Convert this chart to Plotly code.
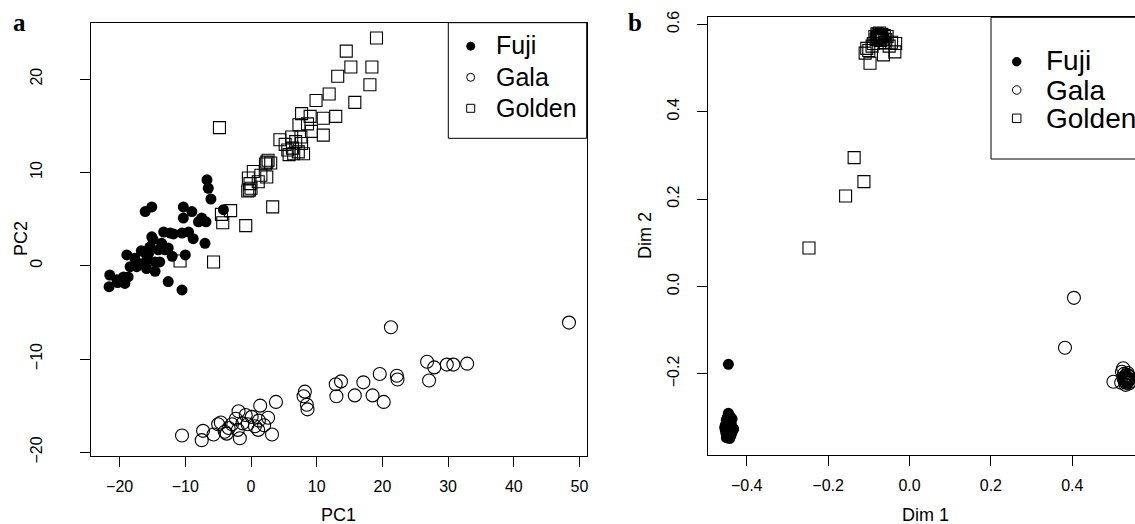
import plotly.graph_objects as go

W, H = 1135, 524

# ---------------- Panel a : PCA ----------------
fuji_pc1 = [-21.5, -21.6, -20.4, -19.4, -19.2, -18.7, -18.9, -18.4, -17.7, -17.4,
            -16.7, -16.4, -15.9, -15.9, -15.6, -15.4, -15.1, -14.6, -14.6, -14.1,
            -13.9, -13.1, -12.6, -16.1, -15.1, -13.3, -12.3, -12.6, -10.5, -10.0,
            -10.5, -9.5, -8.8, -7.0, -10.3, -10.3, -9.0, -8.0, -7.5, -6.85,
            -6.7, -6.5, -6.1, -4.2, -17.0, -13.6, -11.8, -20.3, -14.9, -12.0]
fuji_pc2 = [-1.0, -2.25, -1.5, -1.2, -1.9, -1.2, 1.15, -0.1, 0.8, -0.1,
            1.6, 1.5, -0.3, 0.6, 1.3, 2.0, 3.1, -0.6, 0.4, 1.7,
            0.4, 1.7, 1.9, 5.8, 6.3, 3.6, 3.5, -1.7, -2.6, 1.15,
            3.5, 3.6, 2.9, 2.4, 6.3, 5.1, 5.8, 4.7, 5.1, 4.7,
            9.2, 8.3, 7.15, 6.0, 0.2, 2.4, 3.4, -1.8, 2.8, 1.0]

gala_pc1 = [48.4, 21.3, 26.8, 27.9, 29.8, 30.8, 32.9, 27.1, 22.2, 22.3,
            19.6, 20.2, 18.5, 17.1, 15.8, 13.7, 12.9, 13.0, 8.2, 8.0,
            8.5, 8.6, 3.8, 1.4, -1.9, -0.8, -10.5, -7.5, -5.7, -3.7,
            -1.7, 3.2, 1.1, -7.3, -5.0, -4.6, -3.4, -2.9, -2.3, -1.3,
            0.1, 0.6, 1.2, 2.0, 2.6, -4.0, -2.0, -0.5]
gala_pc2 = [-6.1, -6.6, -10.3, -10.9, -10.6, -10.6, -10.5, -12.3, -11.8, -12.2,
            -11.6, -14.6, -13.9, -12.5, -13.9, -12.4, -12.7, -14.0, -13.5, -14.0,
            -14.9, -15.4, -14.6, -15.0, -15.6, -16.0, -18.2, -18.7, -18.1, -18.0,
            -18.5, -18.1, -17.6, -17.7, -17.0, -16.8, -17.4, -17.0, -16.4, -16.9,
            -16.2, -17.2, -16.6, -17.1, -16.3, -17.8, -17.6, -17.0]

golden_pc1 = [-4.8, -10.8, -5.7, -4.5, -3.1, -4.3, -0.8, 3.3, -0.25, -0.15,
              -0.4, 0.35, 1.1, 2.4, 2.4, 2.6, 2.2, 4.4, 5.2, 5.8,
              6.2, 6.3, 7.2, 7.7, 7.6, 8.0, 7.7, 7.3, 9.0, 9.2,
              11.0, 11.0, 9.9, 11.9, 12.9, 13.2, 14.5, 15.2, 15.8, 18.1,
              18.4, 19.1, 8.6, 6.8, 0.0, -0.5, 5.6, 6.5, 1.5, 3.0]
golden_pc2 = [14.8, 0.5, 0.4, 5.5, 5.9, 4.6, 4.3, 6.3, 8.1, 8.8,
              9.4, 10.1, 9.0, 9.5, 11.1, 11.3, 10.9, 13.5, 13.0, 11.9,
              13.8, 12.6, 12.2, 13.1, 13.8, 12.0, 16.3, 15.1, 16.0, 14.4,
              14.0, 15.8, 17.7, 18.4, 16.0, 20.3, 23.0, 21.3, 17.5, 19.4,
              21.3, 24.4, 15.2, 13.3, 8.3, 8.0, 12.4, 12.0, 9.7, 11.0]

# ---------------- Panel b : MDS ----------------
fuji_dim1 = [-0.445, -0.445, -0.440, -0.448, -0.436, -0.450, -0.443, -0.447, -0.438, -0.452,
             -0.444, -0.449, -0.441, -0.446, -0.432, -0.453, -0.440, -0.447, -0.436, -0.451,
             -0.443, -0.448, -0.439, -0.445, -0.450, -0.442, -0.446, -0.444, -0.441, -0.454,
             -0.437]
fuji_dim2 = [-0.178, -0.290, -0.298, -0.300, -0.303, -0.306, -0.308, -0.312, -0.314, -0.316,
             -0.318, -0.320, -0.322, -0.324, -0.326, -0.328, -0.330, -0.332, -0.334, -0.336,
             -0.338, -0.340, -0.342, -0.344, -0.346, -0.348, -0.335, -0.327, -0.310, -0.322,
             -0.320]

gala_dim1 = [0.404, 0.382, 0.501, 0.525, 0.530, 0.535, 0.528, 0.540, 0.533, 0.538,
             0.527, 0.542, 0.531, 0.536, 0.529, 0.534, 0.539, 0.532, 0.537, 0.526,
             0.541, 0.530, 0.535, 0.533, 0.522, 0.520]
gala_dim2 = [-0.026, -0.140, -0.218, -0.187, -0.205, -0.210, -0.215, -0.212, -0.220, -0.205,
             -0.200, -0.218, -0.225, -0.198, -0.212, -0.215, -0.222, -0.208, -0.216, -0.210,
             -0.207, -0.218, -0.202, -0.212, -0.195, -0.220]

golden_dim1 = [-0.097, -0.109, -0.105, -0.064, -0.036, -0.034, -0.044, -0.089, -0.072, -0.080,
               -0.055, -0.070, -0.075, -0.078, -0.068, -0.074, -0.082, -0.066, -0.085, -0.062,
               -0.071, -0.077, -0.069, -0.073, -0.080, -0.058, -0.092, -0.100, -0.050, -0.060,
               -0.247, -0.136, -0.112, -0.157]
golden_dim2 = [0.511, 0.534, 0.545, 0.530, 0.537, 0.556, 0.559, 0.556, 0.575, 0.578,
               0.572, 0.570, 0.568, 0.572, 0.577, 0.580, 0.565, 0.566, 0.572, 0.574,
               0.563, 0.576, 0.572, 0.574, 0.569, 0.565, 0.550, 0.540, 0.550, 0.558,
               0.088, 0.295, 0.240, 0.207]

cultivars = ["Fuji", "Gala", "Golden"]
tick_a_x = [-20, -10, 0, 10, 20, 30, 40, 50]
tick_a_y = [-20, -10, 0, 10, 20]
tick_b_x = [-0.4, -0.2, 0.0, 0.2, 0.4]
tick_b_y = [-0.2, 0.0, 0.2, 0.4, 0.6]

FONT = "Liberation Sans, Arial, Helvetica, sans-serif"
SERIF = "Liberation Serif, Times New Roman, serif"


def fx(p):
    return p / W


def fy(p):
    return 1 - p / H


fig = go.Figure()

styles = {
    "Fuji": dict(symbol="circle", size=11, color="black", line=dict(width=0)),
    "Gala": dict(symbol="circle-open", size=13, color="black", line=dict(width=1.1)),
    "Golden": dict(symbol="square-open", size=12, color="black", line=dict(width=1.1)),
}

panel_a = {"Fuji": (fuji_pc1, fuji_pc2), "Gala": (gala_pc1, gala_pc2),
           "Golden": (golden_pc1, golden_pc2)}
panel_b = {"Fuji": (fuji_dim1, fuji_dim2), "Gala": (gala_dim1, gala_dim2),
           "Golden": (golden_dim1, golden_dim2)}

for name in cultivars:
    x, y = panel_a[name]
    fig.add_trace(go.Scatter(x=x, y=y, mode="markers", name=name, marker=styles[name],
                             xaxis="x", yaxis="y", showlegend=False, cliponaxis=False))
for name in cultivars:
    x, y = panel_b[name]
    fig.add_trace(go.Scatter(x=x, y=y, mode="markers", name=name, marker=styles[name],
                             xaxis="x2", yaxis="y2", showlegend=False, cliponaxis=False))

axis_common = dict(showgrid=False, zeroline=False, showline=True, linecolor="black",
                   linewidth=1, ticks="outside", ticklen=10, tickwidth=1, tickcolor="black",
                   tickfont=dict(family=FONT, size=16, color="black"), automargin=False)

fig.update_layout(
    xaxis=dict(domain=[fx(91), fx(586.7)], range=[(91 - 251) / 6.57, (586.7 - 251) / 6.57],
               tickvals=tick_a_x, ticktext=[str(v).replace("-", "\u2212") for v in tick_a_x],
               mirror=True, anchor="y", ticklabelstandoff=6, **axis_common),
    yaxis=dict(domain=[fy(455.7), fy(22.7)], range=[(265.7 - 455.7) / 9.33, (265.7 - 22.7) / 9.33],
               tickvals=tick_a_y, ticktext=[str(v).replace("-", "\u2212") for v in tick_a_y],
               tickangle=-90, mirror=True, anchor="x", ticklabelstandoff=32, **axis_common),
    xaxis2=dict(domain=[fx(708.3), 1.0], range=[(708.3 - 909.5) / 407, (W - 909.5) / 407],
                tickvals=tick_b_x, ticktext=[f"{v:.1f}".replace("-", "\u2212") for v in tick_b_x],
                mirror=True, anchor="y2", ticklabelstandoff=6, **axis_common),
    yaxis2=dict(domain=[fy(454.5), fy(17.3)], range=[(286.5 - 454.5) / 437, (286.5 - 17.3) / 437],
                tickvals=tick_b_y, ticktext=[f"{v:.1f}".replace("-", "\u2212") for v in tick_b_y],
                tickangle=-90, mirror=False, anchor="x2", ticklabelstandoff=12, **axis_common),
)

annotations = []
shapes = []


def text(s, x, y, size, angle=0, xanchor="center", family=FONT):
    annotations.append(dict(text=s, x=fx(x), y=fy(y), xref="paper", yref="paper",
                            showarrow=False, xanchor=xanchor, yanchor="middle", textangle=angle,
                            font=dict(family=family, size=size, color="black")))


# axis titles
text("PC1", 338.8, 515, 18)
text("PC2", 21, 239, 18, angle=-90)
text("Dim 1", 925, 515, 18)
text("Dim 2", 645, 236, 18, angle=-90)

# panel letters
text("<b>a</b>", 19, 22.5, 25, family=SERIF)
text("<b>b</b>", 635, 23, 25, family=SERIF)


# legends (drawn manually, R style)
def legend(x0, y0, x1, y1, sym_x, txt_x, rows, fsize, msize):
    shapes.append(dict(type="rect", xref="paper", yref="paper", x0=fx(x0), x1=fx(x1),
                       y0=fy(y1), y1=fy(y0), line=dict(color="black", width=1),
                       fillcolor="white", layer="above"))
    for (name, ys, yt) in rows:
        r = msize / 2
        kind = "rect" if name == "Golden" else "circle"
        fill = "black" if name == "Fuji" else "rgba(0,0,0,0)"
        shapes.append(dict(type=kind, xref="paper", yref="paper",
                           x0=fx(sym_x - r), x1=fx(sym_x + r), y0=fy(ys + r), y1=fy(ys - r),
                           line=dict(color="black", width=1), fillcolor=fill, layer="above"))
        text(name, txt_x, yt, fsize, xanchor="left")


legend(448.3, 22.7, 586.7, 138.3, 470.7, 493.5,
       [("Fuji", 46.2, 44.7), ("Gala", 77.3, 76.7), ("Golden", 108.3, 108.0)], 25, 8)
legend(991, 17.3, 1145, 159, 1016.7, 1043.5,
       [("Fuji", 61.7, 60.5), ("Gala", 90, 90), ("Golden", 118.3, 118.3)], 28, 8.5)

fig.update_layout(
    width=W, height=H, autosize=False,
    margin=dict(l=0, r=0, t=0, b=0, pad=0),
    paper_bgcolor="white", plot_bgcolor="white",
    showlegend=False,
    annotations=annotations, shapes=shapes,
)

fig.write_html("out.html", config={"displayModeBar": False},
               post_script="document.body.style.margin='0';document.body.style.overflow='hidden';")
